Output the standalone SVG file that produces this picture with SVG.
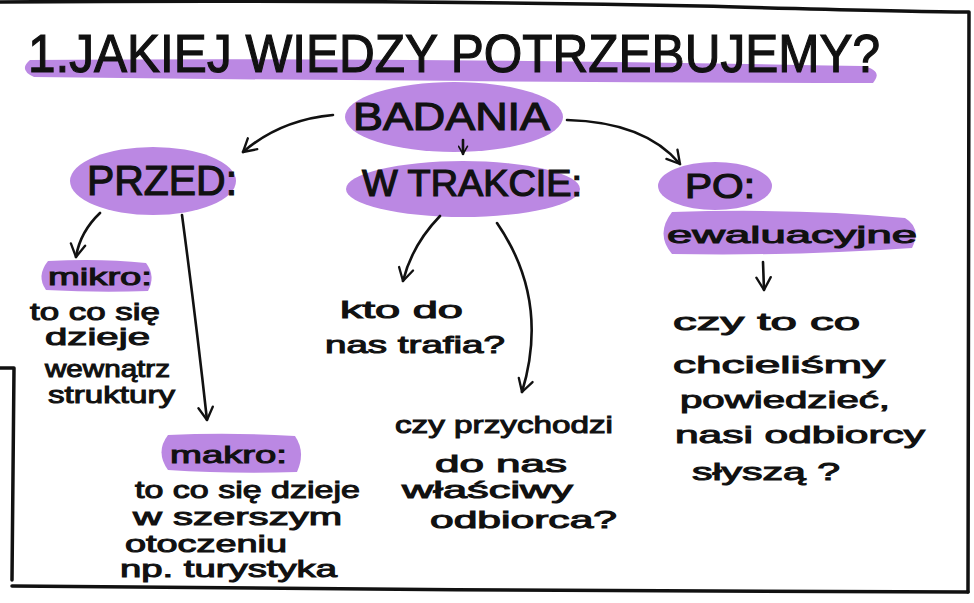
<svg xmlns="http://www.w3.org/2000/svg" width="974" height="603" viewBox="0 0 974 603">
<defs>
<marker id="ah" viewBox="0 0 20 20" refX="16" refY="10" markerWidth="18" markerHeight="18" markerUnits="userSpaceOnUse" orient="auto">
<path d="M2,2 L16,10 L2,18" fill="none" stroke="#111" stroke-width="2.6" stroke-linecap="round" stroke-linejoin="round"/>
</marker>
<marker id="ahs" viewBox="0 0 20 20" refX="16" refY="10" markerWidth="11" markerHeight="11" markerUnits="userSpaceOnUse" orient="auto">
<path d="M2,2 L16,10 L2,18" fill="none" stroke="#111" stroke-width="3" stroke-linecap="round" stroke-linejoin="round"/>
</marker>
</defs>
<style>
.hl{fill:#bb88e3}
.t{font-family:"Liberation Sans","DejaVu Sans",sans-serif;fill:#111;stroke:#111;stroke-width:1.2}
.lc{font-size:24px;stroke-width:1}
.fr{fill:none;stroke:#111;stroke-width:3.5;stroke-linecap:round;stroke-linejoin:round}
.cn{fill:none;stroke:#111;stroke-width:2.6;stroke-linecap:round}
</style>
<rect width="974" height="603" fill="#fff"/>
<g id="frame">
<path class="fr" d="M0,2 C250,0 500,2 700,6 C820,9 900,12 969,12 L968,592"/>
<path class="fr" d="M12,586 C300,589 700,592 968,592"/>
<path class="fr" d="M0,368 L14,368 L12,580"/>
</g>
<g id="title">
<path class="hl" d="M30,60 Q400,57 862,66 Q884,70 873,83 Q450,82 34,77 Q18,70 30,60 Z"/>
<text class="t" x="28" y="72" font-size="54" stroke-width="1.6" textLength="852" lengthAdjust="spacingAndGlyphs">1.JAKIEJ WIEDZY POTRZEBUJEMY?</text>
</g>
<g id="badania">
<ellipse class="hl" cx="454" cy="117" rx="109" ry="35"/>
<text class="t" x="353" y="130" font-size="38" textLength="197" lengthAdjust="spacingAndGlyphs">BADANIA</text>
</g>
<g id="przed">
<ellipse class="hl" cx="153" cy="181" rx="83" ry="34"/>
<text class="t" x="87" y="195" font-size="42" textLength="150" lengthAdjust="spacingAndGlyphs">PRZED:</text>
</g>
<g id="w-trakcie">
<ellipse class="hl" cx="463" cy="189" rx="117" ry="28"/>
<text class="t" x="362" y="196" font-size="36" textLength="220" lengthAdjust="spacingAndGlyphs">W TRAKCIE:</text>
</g>
<g id="po">
<ellipse class="hl" cx="715" cy="186" rx="57" ry="24"/>
<text class="t" x="685" y="198" font-size="35" textLength="70" lengthAdjust="spacingAndGlyphs">PO:</text>
</g>
<g id="ewaluacyjne">
<path class="hl" d="M672,212 Q800,208 905,218 Q922,228 912,248 Q800,256 672,254 Q655,234 672,212 Z"/>
<text class="t lc" x="667" y="243" font-size="30" textLength="250" lengthAdjust="spacingAndGlyphs">ewaluacyjne</text>
</g>
<g id="mikro">
<path class="hl" d="M48,261 Q100,258 146,263 Q156,276 148,291 Q100,293 46,290 Q36,276 48,261 Z"/>
<text class="t lc" x="48" y="285" font-size="26" textLength="104" lengthAdjust="spacingAndGlyphs">mikro:</text>
<text class="t lc" x="30" y="320" textLength="130" lengthAdjust="spacingAndGlyphs">to co się</text>
<text class="t lc" x="45" y="345" textLength="105" lengthAdjust="spacingAndGlyphs">dzieje</text>
<text class="t lc" x="45" y="377" textLength="125" lengthAdjust="spacingAndGlyphs">wewnątrz</text>
<text class="t lc" x="48" y="403" textLength="127" lengthAdjust="spacingAndGlyphs">struktury</text>
</g>
<g id="makro">
<path class="hl" d="M168,435 Q230,432 295,436 Q306,452 297,472 Q230,474 168,470 Q155,452 168,435 Z"/>
<text class="t lc" x="170" y="463" font-size="28" textLength="117" lengthAdjust="spacingAndGlyphs">makro:</text>
<text class="t lc" x="135" y="498" textLength="225" lengthAdjust="spacingAndGlyphs">to co się dzieje</text>
<text class="t lc" x="133" y="525" textLength="209" lengthAdjust="spacingAndGlyphs">w szerszym</text>
<text class="t lc" x="125" y="552" textLength="162" lengthAdjust="spacingAndGlyphs">otoczeniu</text>
<text class="t lc" x="120" y="577" textLength="217" lengthAdjust="spacingAndGlyphs">np. turystyka</text>
</g>
<g id="kto">
<text class="t lc" x="340" y="318" textLength="123" lengthAdjust="spacingAndGlyphs">kto do</text>
<text class="t lc" x="325" y="353" textLength="180" lengthAdjust="spacingAndGlyphs">nas trafia?</text>
</g>
<g id="czy-przychodzi">
<text class="t lc" x="395" y="433" textLength="218" lengthAdjust="spacingAndGlyphs">czy przychodzi</text>
<text class="t lc" x="435" y="472" textLength="132" lengthAdjust="spacingAndGlyphs">do nas</text>
<text class="t lc" x="402" y="498" textLength="171" lengthAdjust="spacingAndGlyphs">właściwy</text>
<text class="t lc" x="430" y="528" textLength="187" lengthAdjust="spacingAndGlyphs">odbiorca?</text>
</g>
<g id="czy-to-co">
<text class="t lc" x="673" y="330" textLength="187" lengthAdjust="spacingAndGlyphs">czy to co</text>
<text class="t lc" x="673" y="373" textLength="212" lengthAdjust="spacingAndGlyphs">chcieliśmy</text>
<text class="t lc" x="680" y="408" textLength="210" lengthAdjust="spacingAndGlyphs">powiedzieć,</text>
<text class="t lc" x="675" y="443" textLength="250" lengthAdjust="spacingAndGlyphs">nasi odbiorcy</text>
<text class="t lc" x="692" y="480" textLength="148" lengthAdjust="spacingAndGlyphs">słyszą ?</text>
</g>
<g id="connectors">
<path class="cn" marker-end="url(#ah)" d="M333,115 Q280,120 243,152"/>
<path class="cn" marker-end="url(#ah)" d="M567,120 Q645,122 680,164"/>
<path class="cn" marker-end="url(#ahs)" d="M463,140 L463,154"/>
<path class="cn" marker-end="url(#ah)" d="M100,213 Q80,232 76,257"/>
<path class="cn" marker-end="url(#ah)" d="M182,215 Q196,320 207,420"/>
<path class="cn" marker-end="url(#ah)" d="M440,216 Q412,245 403,281"/>
<path class="cn" marker-end="url(#ah)" d="M497,223 Q550,300 522,392"/>
<path class="cn" marker-end="url(#ah)" d="M763,262 L764,290"/>
</g>
</svg>
